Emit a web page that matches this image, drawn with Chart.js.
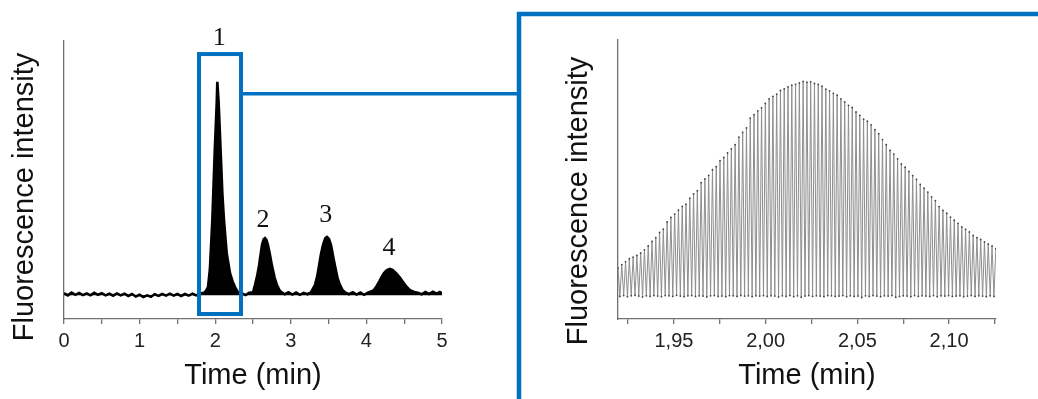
<!DOCTYPE html>
<html>
<head>
<meta charset="utf-8">
<script src="https://cdn.jsdelivr.net/npm/chart.js@4/dist/chart.umd.min.js"></script>
<style>
  body { margin: 0; background: #fff; }
  #wrap { position: relative; width: 1038px; height: 399px; overflow: hidden; }
  #leftChart { position: absolute; left: 0; top: 0; }
  #rightChart { position: absolute; left: 516px; top: 0; }
</style>
</head>
<body>
<div id="wrap">
  <canvas id="leftChart" width="518" height="399"></canvas>
  <canvas id="rightChart" width="522" height="399"></canvas>
</div>
<script>
// full electropherogram (time in min, intensity in arbitrary units 0-100)
var leftTime = [
  0, 0.05, 0.10, 0.15, 0.20, 0.25, 0.30, 0.35, 0.40, 0.45, 0.50, 0.55, 0.60, 0.65, 0.70, 0.75,
  0.80, 0.85, 0.90, 0.95, 1.00, 1.05, 1.10, 1.15, 1.20, 1.25, 1.30, 1.35, 1.40, 1.45, 1.50,
  1.55, 1.60, 1.65, 1.70, 1.75, 1.80, 1.85,
  1.88, 1.905, 1.93, 1.962, 1.993, 2.02, 2.028, 2.046, 2.073, 2.095, 2.116, 2.152, 2.196, 2.23, 2.262, 2.302,
  2.35, 2.40, 2.45, 2.50,
  2.526, 2.555, 2.579, 2.60, 2.619, 2.64, 2.659, 2.678, 2.698, 2.725, 2.751, 2.785, 2.817, 2.85, 2.88,
  2.92, 2.97, 3.02, 3.07, 3.12, 3.17, 3.22, 3.267,
  3.295, 3.32, 3.35, 3.373, 3.40, 3.426, 3.455, 3.479, 3.505, 3.532, 3.56, 3.585, 3.62, 3.651, 3.685, 3.717,
  3.77, 3.82, 3.87, 3.92, 3.97, 4.02,
  4.06, 4.10, 4.135, 4.167, 4.20, 4.233, 4.27, 4.312, 4.35, 4.392, 4.44, 4.484, 4.53, 4.577, 4.63, 4.68,
  4.73, 4.78, 4.83, 4.88, 4.93, 4.97, 5.00
];
var leftSignal = [
  9.3, 8.5, 9.5, 8.7, 9.4, 8.6, 9.2, 8.5, 9.4, 8.7, 9.3, 8.5, 9.1, 8.4, 9.2, 8.5,
  9.1, 8.3, 9.0, 8.1, 8.7, 7.9, 8.5, 8.0, 8.9, 8.3, 9.0, 8.4, 9.1, 8.4, 9.0,
  8.3, 9.0, 8.4, 9.1, 8.5, 9.2, 9.4,
  10.2, 11.5, 18.0, 35.6, 59.7, 77.7, 85.3, 77.7, 59.7, 45.0, 35.6, 23.7, 16.5, 13.5, 11.5, 9.6,
  9.3, 8.6, 9.4, 9.6,
  12.2, 15.5, 19.1, 23.0, 26.6, 28.6, 29.1, 28.5, 26.6, 23.0, 19.1, 15.0, 12.2, 10.4, 9.6,
  8.9, 9.6, 8.8, 9.5, 8.7, 9.4, 8.9, 9.6,
  11.0, 12.2, 15.5, 19.1, 23.5, 26.6, 29.0, 29.5, 28.8, 26.6, 22.5, 19.1, 14.5, 12.2, 10.4, 9.6,
  8.9, 9.6, 8.8, 9.5, 8.7, 9.5,
  9.9, 10.4, 11.8, 13.3, 15.1, 16.5, 17.6, 18.0, 17.6, 16.5, 15.0, 13.3, 11.6, 10.4, 9.7, 9.4,
  8.9, 9.7, 9.0, 9.8, 9.1, 9.7, 9.3
];
var leftBaseline = 8.5;

// peak numbers above the peaks
var peakLabels = ["1", "2", "3", "4"];
var peakLabelTimes = [2.054, 2.632, 3.462, 4.299];
var peakLabelHeights = [101, 35.6, 37.4, 25.5];

// zoom window marked on the left chart
var boxTimes = [1.786, 2.341];
var boxHeights = [1.8, 95.3];
var connectorHeight = 81;

// zoomed trace: one maximum and one minimum per modulation cycle
var cycleStart = 1.9195;
var cyclePeriod = 0.00206;
var cycleTops = [
  18.3, 19.5, 20.5, 21.6, 22.2, 22.8, 23.7, 24.8, 26.2, 27.8,
  29.2, 31.0, 32.2, 34.8, 36.4, 37.6, 39.0, 40.4, 41.2, 43.3,
  44.8, 46.0, 48.9, 50.2, 51.5, 53.5, 54.6, 56.8, 57.9, 59.5,
  61.0, 62.5, 65.2, 66.9, 68.5, 72.0, 73.2, 74.6, 75.7, 77.3,
  78.9, 79.8, 80.6, 81.9, 82.5, 83.2, 83.8, 84.1, 84.6, 85.2,
  84.9, 85.0, 84.4, 84.1, 83.5, 82.4, 81.8, 80.9, 80.2, 78.9,
  77.8, 76.6, 75.8, 74.2, 73.0, 71.6, 70.9, 69.6, 67.9, 66.4,
  64.3, 62.5, 60.4, 59.1, 57.4, 55.6, 54.4, 52.9, 51.4, 50.0,
  48.2, 46.9, 45.5, 43.8, 42.4, 40.3, 38.9, 37.9, 36.5, 35.4,
  34.3, 33.0, 32.1, 31.2, 30.0, 29.2, 28.5, 27.6, 26.9, 26.2,
  25.2
];
var cycleBottoms = [
  8.1, 8.4, 8.0, 8.3, 8.5, 8.2, 7.9, 8.3, 8.1, 8.4,
  8.2, 8.0, 8.4, 8.3, 8.1, 8.5, 8.2, 8.0, 8.3, 8.4,
  8.1, 8.3, 8.2, 7.9, 8.3, 8.4, 8.1, 8.2, 8.0, 8.4,
  8.3, 8.1, 8.4, 8.2, 8.3, 8.0, 8.3, 8.2, 8.4, 8.1,
  8.3, 8.2, 7.9, 8.3, 8.1, 8.4, 8.0, 8.3, 7.8, 8.2,
  8.4, 8.1, 8.3, 8.2, 8.0, 8.4, 8.3, 8.1, 8.2, 8.4,
  8.0, 8.3, 8.1, 8.2, 7.7, 8.3, 8.1, 8.4, 8.2, 8.0,
  8.3, 8.2, 8.4, 7.8, 8.1, 8.3, 8.2, 8.0, 8.4, 8.1,
  8.3, 8.2, 8.1, 8.4, 8.0, 8.3, 8.2, 8.4, 8.1, 8.2,
  8.3, 8.0, 8.2, 8.4, 8.1, 8.3, 8.2, 8.0, 8.3, 8.1
];

var blue = "#0070c0";
var axisGrey = "#707070";
var sansFont = "'Liberation Sans', Arial, sans-serif";

// build point lists for the library
var leftPoints = leftTime.map((t, i) => ({ x: t, y: leftSignal[i] }));
var rightPoints = [];
cycleTops.forEach((top, i) => {
  var t = cycleStart + i * cyclePeriod;
  rightPoints.push({ x: t, y: top });
  if (i < cycleBottoms.length) {
    rightPoints.push({ x: t + cyclePeriod / 2, y: cycleBottoms[i] });
  }
});

//draws a rotated y axis title centered at (x, y)
function drawYTitle(ctx, text, x, y) {
  ctx.save();
  ctx.translate(x, y);
  ctx.rotate(-Math.PI / 2);
  ctx.font = "29px " + sansFont;
  ctx.fillStyle = "#111";
  ctx.textAlign = "center";
  ctx.textBaseline = "alphabetic";
  ctx.fillText(text, 0, 0);
  ctx.restore();
}

//extras on the left chart: peak numbers, y title, zoom box and connector
var leftExtras = {
  id: "leftExtras",
  afterDraw(chart) {
    var ctx = chart.ctx;
    var xs = chart.scales.x;
    var ys = chart.scales.y;
    drawYTitle(ctx, "Fluorescence intensity", 33, 197);

    ctx.save();
    ctx.font = "26px 'Liberation Serif', 'Times New Roman', serif";
    ctx.fillStyle = "#111";
    ctx.textAlign = "center";
    ctx.textBaseline = "middle";
    peakLabels.forEach((label, i) => {
      ctx.fillText(label, xs.getPixelForValue(peakLabelTimes[i]), ys.getPixelForValue(peakLabelHeights[i]));
    });

    var bx1 = xs.getPixelForValue(boxTimes[0]);
    var bx2 = xs.getPixelForValue(boxTimes[1]);
    var by1 = ys.getPixelForValue(boxHeights[1]);
    var by2 = ys.getPixelForValue(boxHeights[0]);
    ctx.strokeStyle = blue;
    ctx.lineWidth = 4;
    ctx.strokeRect(bx1, by1, bx2 - bx1, by2 - by1);
    var cy = ys.getPixelForValue(connectorHeight);
    ctx.lineWidth = 3.5;
    ctx.beginPath();
    ctx.moveTo(bx2 + 2, cy);
    ctx.lineTo(chart.width, cy);
    ctx.stroke();
    ctx.restore();
  },
};

//extras on the right chart: y title and the blue frame
var rightExtras = {
  id: "rightExtras",
  afterDraw(chart) {
    var ctx = chart.ctx;
    drawYTitle(ctx, "Fluorescence intensity", 71, 201);
    ctx.save();
    ctx.strokeStyle = blue;
    ctx.lineWidth = 4.5;
    ctx.beginPath();
    ctx.moveTo(3, chart.height);
    ctx.lineTo(3, 14);
    ctx.lineTo(chart.width, 14);
    ctx.stroke();
    ctx.restore();
  },
};

function xAxis(min, max, step, label, fmt) {
  return {
    type: "linear",
    min: min,
    max: max,
    afterFit: (s) => { s.height = 80; },
    border: { display: true, color: axisGrey, width: 1.3 },
    grid: { display: true, drawOnChartArea: false, drawTicks: true, tickLength: 5, color: axisGrey, lineWidth: 1.3 },
    ticks: {
      stepSize: step,
      includeBounds: false,
      autoSkip: false,
      maxRotation: 0,
      padding: 5,
      color: "#222",
      font: { family: sansFont, size: 20 },
      callback: fmt,
    },
    title: {
      display: true,
      text: label,
      color: "#111",
      font: { family: sansFont, size: 29 },
      padding: { top: 0, bottom: 6 },
    },
  };
}

function yAxis(width) {
  return {
    type: "linear",
    min: 0,
    max: 100,
    afterFit: (s) => { s.width = width; },
    border: { display: true, color: axisGrey, width: 1.3 },
    grid: { display: false },
    ticks: { display: false },
  };
}

//left chart: whole run
new Chart(document.getElementById("leftChart"), {
  type: "line",
  data: {
    datasets: [
      {
        data: leftPoints,
        borderColor: "#000",
        backgroundColor: "#000",
        borderWidth: 2.6,
        pointRadius: 0,
        tension: 0,
        fill: { value: leftBaseline },
      },
    ],
  },
  options: {
    responsive: false,
    animation: false,
    devicePixelRatio: 1,
    layout: { padding: { left: 0, top: 41, right: 76, bottom: 0 } },
    plugins: { legend: { display: false }, tooltip: { enabled: false } },
    scales: {
      x: xAxis(0, 5, 0.5, "Time (min)", (v) => (Number.isInteger(v) ? String(v) : "")),
      y: yAxis(64),
    },
  },
  plugins: [leftExtras],
});

//right chart: zoom on peak 1
new Chart(document.getElementById("rightChart"), {
  type: "line",
  data: {
    datasets: [
      {
        data: rightPoints,
        borderColor: "#8e8e8e",
        borderWidth: 1,
        pointRadius: 0.9,
        pointBorderWidth: 0,
        pointBackgroundColor: "#444",
        tension: 0,
        fill: false,
      },
    ],
  },
  options: {
    responsive: false,
    animation: false,
    devicePixelRatio: 1,
    layout: { padding: { left: 0, top: 40, right: 42, bottom: 0 } },
    plugins: { legend: { display: false }, tooltip: { enabled: false } },
    scales: {
      x: xAxis(1.9195, 2.1256, 0.025, "Time (min)", (v) => {
        var k = v * 20;
        return Math.abs(Math.round(k) - k) < 1e-6 ? v.toFixed(2).replace(".", ",") : "";
      }),
      y: yAxis(102),
    },
  },
  plugins: [rightExtras],
});
</script>
</body>
</html>
